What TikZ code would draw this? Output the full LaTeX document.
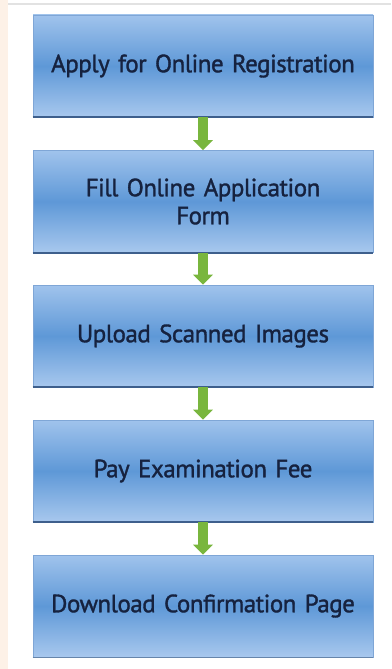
\documentclass[tikz,border=0pt]{standalone}
\usepackage{fontspec}
\setmainfont{PT Sans}
\newfontfamily\boxfont{PT Sans}[FakeBold=1.3,LetterSpace=-2]
\usetikzlibrary{arrows.meta}
\definecolor{boxtop}{HTML}{A0C3EC}
\definecolor{boxmid}{HTML}{5E98D7}
\definecolor{boxbot}{HTML}{A8C8EE}
\definecolor{boxedge}{HTML}{7FA6D6}
\definecolor{boxshadow}{HTML}{3E5F8C}
\definecolor{txt}{HTML}{16223F}
\definecolor{arrowgreen}{HTML}{79B63E}
\definecolor{peach}{HTML}{FDF1E7}
\definecolor{topline}{HTML}{E2E2E2}
\tikzset{
  stepbox/.style={minimum width=340pt, minimum height=102pt, inner sep=0pt,
    top color=boxtop, bottom color=boxbot, middle color=boxmid,
    draw=boxedge, line width=0.6pt, text=txt,
    font=\boxfont\fontsize{25}{28}\selectfont,
    align=center, text width=330pt},
  flow/.style={line width=10pt, draw=arrowgreen,
    -{Triangle[width=19pt,length=10pt]}},
  bline/.style={line width=2pt, draw=boxshadow}
}
\begin{document}
\begin{tikzpicture}[x=1pt,y=-1pt]
\useasboundingbox (0,0) rectangle (391,669);
\fill[white] (0,0) rectangle (391,669);
\fill[peach] (0,0) rectangle (8,669);
\fill[topline] (8,3) rectangle (391,5);
\node[stepbox] (b1) at (203,66) {Apply for Online Registration};
\node[stepbox] (b2) at (203,201.5) {Fill Online Application\\Form};
\node[stepbox] (b3) at (203,336) {Upload Scanned Images};
\node[stepbox] (b4) at (203,471) {Pay Examination Fee};
\node[stepbox] (b5) at (203,606) {Download Confirmation Page};
\foreach \n in {b1,b2,b3,b4}{
  \draw[bline] (\n.south west) -- (\n.south east);
}
\draw[line width=1pt, draw=boxedge!80!black] (b5.south west) -- (b5.south east);
\draw[flow] (b1.south) -- (b2.north);
\draw[flow] (b2.south) -- (b3.north);
\draw[flow] (b3.south) -- (b4.north);
\draw[flow] (b4.south) -- (b5.north);
\end{tikzpicture}
\end{document}
